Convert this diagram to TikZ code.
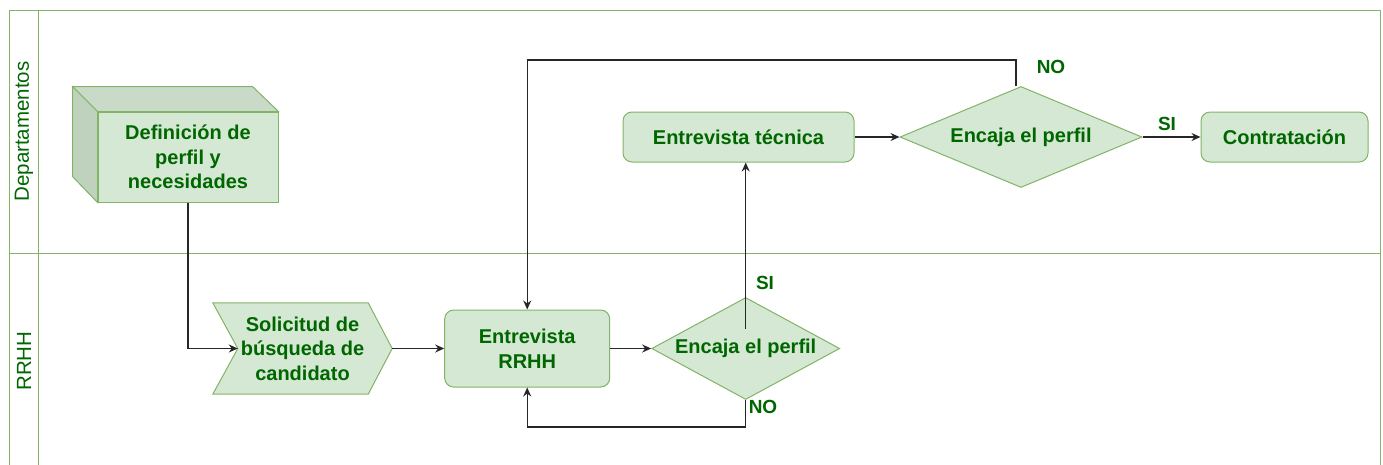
\documentclass[tikz,border=0pt]{standalone}
\usepackage{fontspec}
\setmainfont{Liberation Sans}
\usetikzlibrary{arrows.meta, positioning, shapes.geometric, backgrounds}

\definecolor{boxfill}{HTML}{D5E8D4}
\definecolor{boxline}{HTML}{82B366}
\definecolor{boxtext}{HTML}{006600}
\definecolor{cubetop}{HTML}{C9DBC8}
\definecolor{cubeside}{HTML}{BED2BD}

\begin{document}
\begin{tikzpicture}[x=1pt, y=-1pt, >={Stealth[length=9pt, width=8pt]},
	every node/.style={text=boxtext, font=\fontsize{20}{24.5}\selectfont\bfseries, align=center, inner sep=0pt},
	box/.style={draw=boxline, fill=boxfill, line width=1pt},
	task/.style={box, rounded corners=9pt, minimum height=50pt},
	decision/.style={box, diamond},
	stepbox/.style={minimum width=179pt, minimum height=91pt},
	lane/.style={draw=boxline, line width=1pt},
	lanetitle/.style={font=\fontsize{20.5}{24}\selectfont, rotate=90},
	flow/.style={->, draw=black!85, line width=1.3pt},
	answer/.style={font=\fontsize{19}{22}\selectfont\bfseries}]
	\useasboundingbox (0,0) rectangle (1383,464);

	% pool and lanes
	\draw[lane] (9,10) rectangle (1380,470);
	\draw[lane] (38,10) -- (38,470);
	\draw[lane] (9,253) -- (1380,253);
	\node[lanetitle] (dep) at (24,131.5) {Departamentos};
	\node[lanetitle] (rh) at (24,361) {RRHH};

	% Departamentos
	\node[box, minimum width=180pt, minimum height=90pt] (cube) at (188,157) {Definición de\\perfil y\\necesidades};
	\draw[box, fill=cubetop] (cube.north west) -- ++(-25,-25) -- ++(180,0) -- (cube.north east) -- cycle;
	\draw[box, fill=cubeside] (cube.north west) -- ++(-25,-25) -- ++(0,90) -- (cube.south west) -- cycle;

	\node[task, minimum width=231pt] (tec) at (738.5,137) {Entrevista técnica};
	\node[decision, minimum width=242pt, minimum height=101pt, shape aspect=2.4, right=45pt of tec] (d2) {Encaja el perfil};
	\node[task, minimum width=167pt, right=58pt of d2] (contr) {Contratación};

	% RRHH
	\node[stepbox] (sol) at (302.5,348.5) {Solicitud de\\búsqueda de\\candidato};
	\begin{scope}[on background layer]
		\draw[box] (sol.north west) -- ([xshift=-24pt]sol.north east) -- (sol.east)
			-- ([xshift=-24pt]sol.south east) -- (sol.south west) -- ([xshift=25pt]sol.west) -- cycle;
	\end{scope}
	\node[task, minimum width=165pt, minimum height=77pt, right=52pt of sol] (rrhh) {Entrevista\\RRHH};
	\node[decision, minimum width=188pt, minimum height=102pt, shape aspect=1.85, right=41pt of rrhh] (d1) {Encaja el perfil};

	\node[answer] (si1) at (765,283) {SI};
	\node[answer] (no1) at (763,407) {NO};
	\node[answer] (no2) at (1051,67) {NO};
	\node[answer] (si2) at (1167,124) {SI};

	\draw[flow] (cube.south) |- ([xshift=25pt]sol.west);
	\draw[flow] (sol) -- (rrhh);
	\draw[flow] (rrhh) -- (d1);
	\draw[flow] ([yshift=20pt]d1.center) -- (d1.center |- tec.south);
	\draw[flow] (d1.south) -- ++(0,27) -| (rrhh.south);
	\draw[flow] (tec) -- (d2);
	\draw[flow] (d2) -- (contr);
	\draw[flow] ([xshift=-5pt]d2.north) -- ++(0,-26) -| (rrhh.north);
\end{tikzpicture}
\end{document}
